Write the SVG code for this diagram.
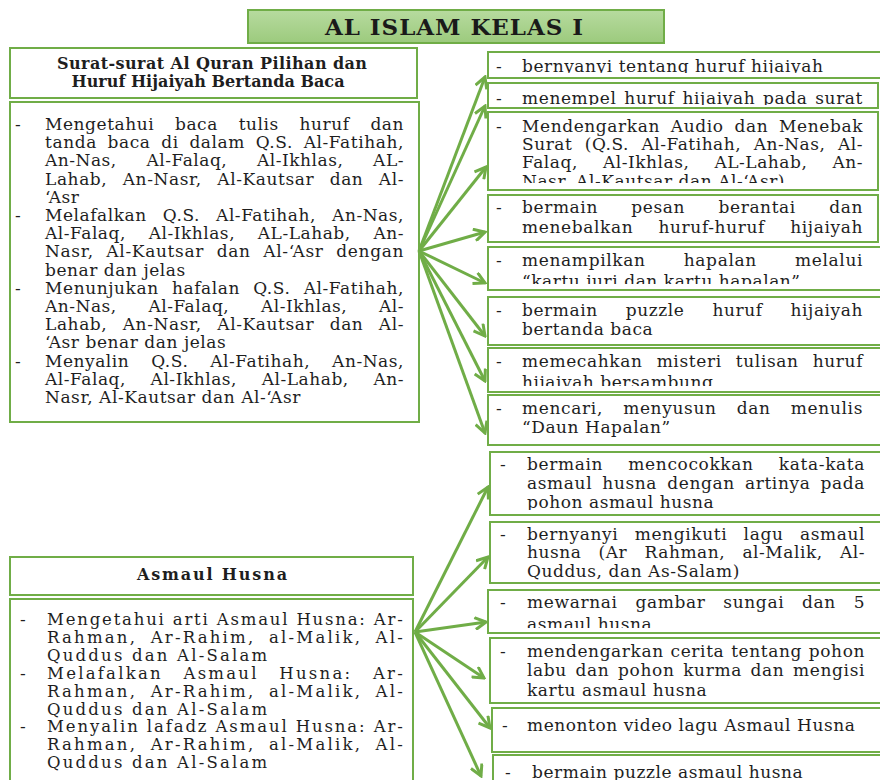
<svg xmlns="http://www.w3.org/2000/svg" width="880" height="780" viewBox="0 0 880 780">
<style>
.b{fill:#fff;stroke:#70ad47;stroke-width:2}
.t{font-family:"DejaVu Serif",serif;font-size:17px;letter-spacing:0.55px;fill:#1e1e1e}
.w{font-size:16.5px;letter-spacing:2.2px}
.h{font-family:"DejaVu Serif",serif;font-size:16px;font-weight:bold;fill:#1e1e1e;text-anchor:middle}
.ti{font-family:"DejaVu Serif",serif;font-size:23px;font-weight:bold;fill:#1a1a1a;text-anchor:middle}
.c{stroke:#70ad47;stroke-width:3;fill:none;marker-end:url(#ah)}
</style>
<defs>
<linearGradient id="tg" x1="0" y1="0" x2="0" y2="1">
<stop offset="0" stop-color="#b7db9f"/><stop offset="1" stop-color="#9cca7d"/>
</linearGradient>
<marker id="ah" markerUnits="userSpaceOnUse" viewBox="0 0 14 14" markerWidth="14" markerHeight="14" refX="12" refY="7" orient="auto">
<path d="M1,1 L12,7 L1,13" fill="none" stroke="#70ad47" stroke-width="3"/>
</marker>
<clipPath id="cA"><rect x="489" y="53" width="391" height="20"/></clipPath>
<clipPath id="cB"><rect x="489" y="84" width="388" height="21"/></clipPath>
<clipPath id="cC"><rect x="489" y="113" width="388" height="70"/></clipPath>
<clipPath id="cD"><rect x="489" y="196" width="388" height="45"/></clipPath>
<clipPath id="cE"><rect x="489" y="248" width="391" height="36"/></clipPath>
<clipPath id="cF"><rect x="489" y="298" width="391" height="46"/></clipPath>
<clipPath id="cG"><rect x="489" y="349" width="391" height="37"/></clipPath>
<clipPath id="cH"><rect x="489" y="396" width="391" height="48"/></clipPath>
<clipPath id="cI"><rect x="491" y="453" width="389" height="57"/></clipPath>
<clipPath id="cJ"><rect x="491" y="523" width="389" height="59"/></clipPath>
<clipPath id="cK"><rect x="489" y="591" width="391" height="37"/></clipPath>
<clipPath id="cL"><rect x="491" y="639" width="389" height="63"/></clipPath>
<clipPath id="cM"><rect x="493" y="709" width="387" height="42"/></clipPath>
<clipPath id="cN"><rect x="494" y="756" width="386" height="30"/></clipPath>
</defs>
<rect width="880" height="780" fill="#fff"/>

<g id="title">
<rect x="248" y="10" width="416" height="33" fill="url(#tg)" stroke="#70ad47" stroke-width="2"/>
<text class="ti" x="454" y="35" textLength="258" lengthAdjust="spacing">AL ISLAM KELAS I</text>
</g>

<g id="quran-header">
<rect class="b" x="10" y="48" width="407" height="50"/>
<text class="h" x="212" y="69" textLength="310" lengthAdjust="spacing">Surat-surat Al Quran Pilihan dan</text>
<text class="h" x="208" y="87" textLength="273" lengthAdjust="spacing">Huruf Hijaiyah Bertanda Baca</text>
</g>

<g id="quran-body">
<rect class="b" x="10" y="102" width="409" height="320"/>
<text class="t" x="15" y="130">-</text>
<text class="t" x="45" y="130" style="word-spacing:14.8px" textLength="359" lengthAdjust="spacing">Mengetahui baca tulis huruf dan</text>
<text class="t" x="45" y="148.2" style="word-spacing:4.7px" textLength="359" lengthAdjust="spacing">tanda baca di dalam Q.S. Al-Fatihah,</text>
<text class="t" x="45" y="166.4" style="word-spacing:23.9px" textLength="359" lengthAdjust="spacing">An-Nas, Al-Falaq, Al-Ikhlas, AL-</text>
<text class="t" x="45" y="184.6" style="word-spacing:9.4px" textLength="359" lengthAdjust="spacing">Lahab, An-Nasr, Al-Kautsar dan Al-</text>
<text class="t" x="45" y="202.8">‘Asr</text>
<text class="t" x="15" y="221">-</text>
<text class="t" x="45" y="221" style="word-spacing:10.2px" textLength="359" lengthAdjust="spacing">Melafalkan Q.S. Al-Fatihah, An-Nas,</text>
<text class="t" x="45" y="239.2" style="word-spacing:16.8px" textLength="359" lengthAdjust="spacing">Al-Falaq, Al-Ikhlas, AL-Lahab, An-</text>
<text class="t" x="45" y="257.4" style="word-spacing:6.5px" textLength="359" lengthAdjust="spacing">Nasr, Al-Kautsar dan Al-‘Asr dengan</text>
<text class="t" x="45" y="275.6">benar dan jelas</text>
<text class="t" x="15" y="293.8">-</text>
<text class="t" x="45" y="293.8" style="word-spacing:7.2px" textLength="359" lengthAdjust="spacing">Menunjukan hafalan Q.S. Al-Fatihah,</text>
<text class="t" x="45" y="312" style="word-spacing:25.8px" textLength="359" lengthAdjust="spacing">An-Nas, Al-Falaq, Al-Ikhlas, Al-</text>
<text class="t" x="45" y="330.2" style="word-spacing:9.4px" textLength="359" lengthAdjust="spacing">Lahab, An-Nasr, Al-Kautsar dan Al-</text>
<text class="t" x="45" y="348.4">‘Asr benar dan jelas</text>
<text class="t" x="15" y="366.6">-</text>
<text class="t" x="45" y="366.6" style="word-spacing:16px" textLength="359" lengthAdjust="spacing">Menyalin Q.S. Al-Fatihah, An-Nas,</text>
<text class="t" x="45" y="384.8" style="word-spacing:18.7px" textLength="359" lengthAdjust="spacing">Al-Falaq, Al-Ikhlas, Al-Lahab, An-</text>
<text class="t" x="45" y="403">Nasr, Al-Kautsar dan Al-‘Asr</text>
</g>

<g id="asmaul-header">
<rect class="b" x="10" y="557" width="403" height="38"/>
<text class="h" x="212" y="580" textLength="150" lengthAdjust="spacing">Asmaul Husna</text>
</g>

<g id="asmaul-body">
<rect class="b" x="10" y="599" width="403" height="200"/>
<text class="t" x="20" y="625">-</text>
<text class="t w" x="47" y="625" textLength="358" lengthAdjust="spacing">Mengetahui arti Asmaul Husna: Ar-</text>
<text class="t w" x="47" y="642.9" style="word-spacing:6px" textLength="358" lengthAdjust="spacing">Rahman, Ar-Rahim, al-Malik, Al-</text>
<text class="t w" x="47" y="660.8">Quddus dan Al-Salam</text>
<text class="t" x="20" y="678.7">-</text>
<text class="t w" x="47" y="678.7" style="word-spacing:13.2px" textLength="358" lengthAdjust="spacing">Melafalkan Asmaul Husna: Ar-</text>
<text class="t w" x="47" y="696.6" style="word-spacing:6px" textLength="358" lengthAdjust="spacing">Rahman, Ar-Rahim, al-Malik, Al-</text>
<text class="t w" x="47" y="714.5">Quddus dan Al-Salam</text>
<text class="t" x="20" y="732.4">-</text>
<text class="t w" x="47" y="732.4" textLength="358" lengthAdjust="spacing">Menyalin lafadz Asmaul Husna: Ar-</text>
<text class="t w" x="47" y="750.3" style="word-spacing:6px" textLength="358" lengthAdjust="spacing">Rahman, Ar-Rahim, al-Malik, Al-</text>
<text class="t w" x="47" y="768.2">Quddus dan Al-Salam</text>
</g>

<g id="act-a">
<rect class="b" x="488" y="52" width="400" height="26"/>
<g clip-path="url(#cA)">
<text class="t" x="496" y="72">-</text>
<text class="t" x="522" y="72">bernyanyi tentang huruf hijaiyah</text>
</g>
</g>

<g id="act-b">
<rect class="b" x="488" y="83" width="390" height="25"/>
<g clip-path="url(#cB)">
<text class="t" x="496" y="104">-</text>
<text class="t" x="522" y="104" style="word-spacing:1.8px" textLength="341" lengthAdjust="spacing">menempel huruf hijaiyah pada surat</text>
</g>
</g>

<g id="act-c">
<rect class="b" x="488" y="112" width="390" height="78"/>
<g clip-path="url(#cC)">
<text class="t" x="496" y="132">-</text>
<text class="t" x="522" y="132" style="word-spacing:4.9px" textLength="341" lengthAdjust="spacing">Mendengarkan Audio dan Menebak</text>
<text class="t" x="522" y="150" style="word-spacing:6.6px" textLength="341" lengthAdjust="spacing">Surat (Q.S. Al-Fatihah, An-Nas, Al-</text>
<text class="t" x="522" y="168" style="word-spacing:19.1px" textLength="341" lengthAdjust="spacing">Falaq, Al-Ikhlas, AL-Lahab, An-</text>
<text class="t" x="522" y="187">Nasr, Al-Kautsar dan Al-‘Asr)</text>
</g>
</g>

<g id="act-d">
<rect class="b" x="488" y="195" width="390" height="47"/>
<g clip-path="url(#cD)">
<text class="t" x="496" y="213">-</text>
<text class="t" x="522" y="213" style="word-spacing:27.4px" textLength="341" lengthAdjust="spacing">bermain pesan berantai dan</text>
<text class="t" x="522" y="233" style="word-spacing:19.1px" textLength="341" lengthAdjust="spacing">menebalkan huruf-huruf hijaiyah</text>
</g>
</g>

<g id="act-e">
<rect class="b" x="488" y="247" width="400" height="43"/>
<g clip-path="url(#cE)">
<text class="t" x="496" y="266">-</text>
<text class="t" x="522" y="266" style="word-spacing:32px" textLength="341" lengthAdjust="spacing">menampilkan hapalan melalui</text>
<text class="t" x="522" y="287">“kartu juri dan kartu hapalan”</text>
</g>
</g>

<g id="act-f">
<rect class="b" x="488" y="297" width="400" height="48"/>
<g clip-path="url(#cF)">
<text class="t" x="496" y="315.5">-</text>
<text class="t" x="522" y="315.5" style="word-spacing:22px" textLength="341" lengthAdjust="spacing">bermain puzzle huruf hijaiyah</text>
<text class="t" x="522" y="335">bertanda baca</text>
</g>
</g>

<g id="act-g">
<rect class="b" x="488" y="348" width="400" height="44"/>
<g clip-path="url(#cG)">
<text class="t" x="496" y="367">-</text>
<text class="t" x="522" y="367" style="word-spacing:8.1px" textLength="341" lengthAdjust="spacing">memecahkan misteri tulisan huruf</text>
<text class="t" x="522" y="388">hijaiyah bersambung</text>
</g>
</g>

<g id="act-h">
<rect class="b" x="488" y="395" width="400" height="50"/>
<g clip-path="url(#cH)">
<text class="t" x="496" y="413.5">-</text>
<text class="t" x="522" y="413.5" style="word-spacing:14.1px" textLength="341" lengthAdjust="spacing">mencari, menyusun dan menulis</text>
<text class="t" x="522" y="433">“Daun Hapalan”</text>
</g>
</g>

<g id="act-i">
<rect class="b" x="490" y="452" width="400" height="63"/>
<g clip-path="url(#cI)">
<text class="t" x="500" y="470">-</text>
<text class="t" x="527" y="470" style="word-spacing:19.2px" textLength="338" lengthAdjust="spacing">bermain mencocokkan kata-kata</text>
<text class="t" x="527" y="489" style="word-spacing:4.1px" textLength="338" lengthAdjust="spacing">asmaul husna dengan artinya pada</text>
<text class="t" x="527" y="508">pohon asmaul husna</text>
</g>
</g>

<g id="act-j">
<rect class="b" x="490" y="522" width="400" height="61"/>
<g clip-path="url(#cJ)">
<text class="t" x="500" y="540">-</text>
<text class="t" x="527" y="540" style="word-spacing:10.4px" textLength="338" lengthAdjust="spacing">bernyanyi mengikuti lagu asmaul</text>
<text class="t" x="527" y="558" style="word-spacing:11.3px" textLength="338" lengthAdjust="spacing">husna (Ar Rahman, al-Malik, Al-</text>
<text class="t" x="527" y="577">Quddus, dan As-Salam)</text>
</g>
</g>

<g id="act-k">
<rect class="b" x="488" y="590" width="400" height="43"/>
<g clip-path="url(#cK)">
<text class="t" x="500" y="608">-</text>
<text class="t" x="527" y="608" style="word-spacing:11.7px" textLength="338" lengthAdjust="spacing">mewarnai gambar sungai dan 5</text>
<text class="t" x="527" y="630">asmaul husna</text>
</g>
</g>

<g id="act-l">
<rect class="b" x="490" y="638" width="400" height="65"/>
<g clip-path="url(#cL)">
<text class="t" x="500" y="657">-</text>
<text class="t" x="527" y="657" style="word-spacing:0.8px" textLength="338" lengthAdjust="spacing">mendengarkan cerita tentang pohon</text>
<text class="t" x="527" y="676" style="word-spacing:2.7px" textLength="338" lengthAdjust="spacing">labu dan pohon kurma dan mengisi</text>
<text class="t" x="527" y="695.5">kartu asmaul husna</text>
</g>
</g>

<g id="act-m">
<rect class="b" x="492" y="708" width="400" height="44"/>
<g clip-path="url(#cM)">
<text class="t" x="502" y="731">-</text>
<text class="t" x="527" y="731">menonton video lagu Asmaul Husna</text>
</g>
</g>

<g id="act-n">
<rect class="b" x="493" y="755" width="400" height="40"/>
<g clip-path="url(#cN)">
<text class="t" x="505" y="778">-</text>
<text class="t" x="532" y="778">bermain puzzle asmaul husna</text>
</g>
</g>

<g id="connectors">
<line class="c" x1="419" y1="251" x2="485" y2="77"/>
<line class="c" x1="419" y1="251" x2="485" y2="106"/>
<line class="c" x1="419" y1="251" x2="486" y2="167"/>
<line class="c" x1="419" y1="251" x2="485" y2="232"/>
<line class="c" x1="419" y1="251" x2="485" y2="283"/>
<line class="c" x1="419" y1="251" x2="485" y2="336"/>
<line class="c" x1="419" y1="251" x2="485" y2="381"/>
<line class="c" x1="419" y1="251" x2="485" y2="433"/>
<line class="c" x1="415" y1="632" x2="488" y2="487"/>
<line class="c" x1="415" y1="632" x2="488" y2="557"/>
<line class="c" x1="415" y1="632" x2="486" y2="622"/>
<line class="c" x1="415" y1="632" x2="484" y2="678"/>
<line class="c" x1="415" y1="632" x2="490" y2="728"/>
<line class="c" x1="415" y1="632" x2="481" y2="776"/>
</g>
</svg>
